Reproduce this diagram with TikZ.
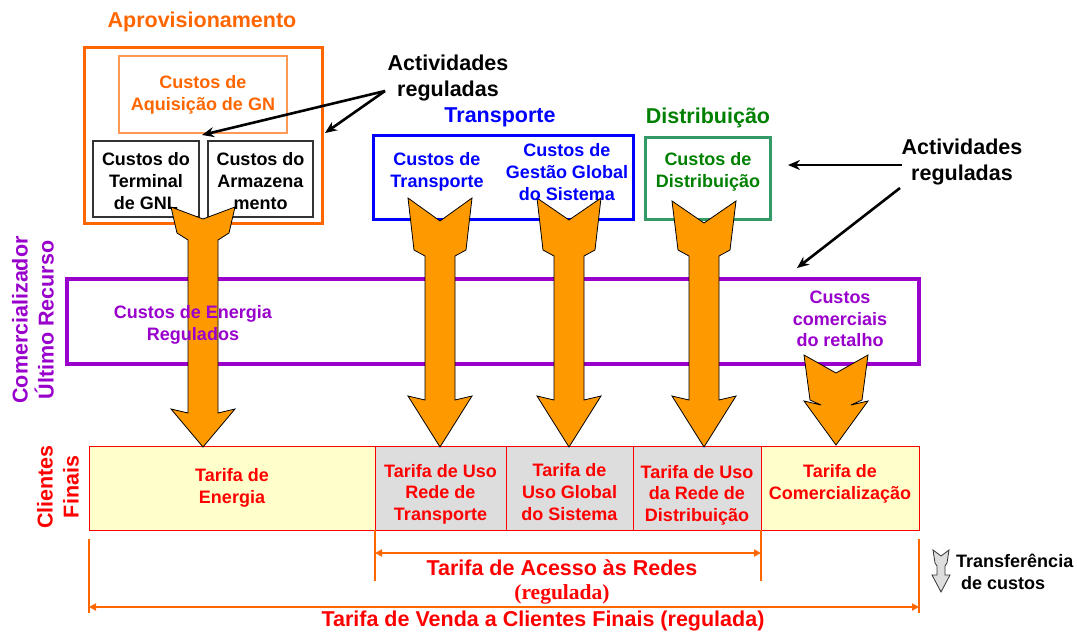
\documentclass[tikz,border=0pt]{standalone}
\usepackage{fontspec}
\setmainfont{Liberation Sans}
\newfontfamily\serifbold{Liberation Serif}
\usetikzlibrary{arrows.meta}

\definecolor{orng}{HTML}{FF6600}
\definecolor{orngl}{HTML}{FF9955}
\definecolor{arrfill}{HTML}{FF9900}
\definecolor{blu}{HTML}{0000FF}
\definecolor{grn}{HTML}{008000}
\definecolor{grnbox}{HTML}{339966}
\definecolor{purp}{HTML}{9900CC}
\definecolor{rd}{HTML}{FF0000}
\definecolor{ylw}{HTML}{FFFFCC}
\definecolor{gry}{HTML}{DDDDDD}
\definecolor{dkgry}{HTML}{333333}

% cx, top, notch, tail bottom, shaft top, shaft bottom, tip
\newcommand{\costarrow}[7]{%
  \filldraw[fill=arrfill,draw=black,line width=0.8pt,line join=miter]
    ({#1-32},#2) -- (#1,#3) -- ({#1+32},#2) -- ({#1+26},#4) -- ({#1+15},#5)
    -- ({#1+15},#6) -- ({#1+32},{#6-4}) -- (#1,#7) -- ({#1-32},{#6-4})
    -- ({#1-15},#6) -- ({#1-15},#5) -- ({#1-26},#4) -- cycle;}

\begin{document}
\begin{tikzpicture}[x=1pt,y=-1pt,
  txt/.style={font=\fontsize{18}{21.6}\selectfont\bfseries, align=center, inner sep=0pt},
  big/.style={font=\fontsize{21.5}{26}\selectfont\bfseries, align=center, inner sep=0pt},
  box/.style={draw, inner sep=0pt, outer sep=0pt},
  cell/.style={draw=rd, line width=1pt, inner sep=0pt, outer sep=0pt, minimum height=84pt},
  blackarrow/.style={draw=black, line width=2.6pt, -{Stealth[length=12pt,width=10pt]}},
  bracket/.style={draw=orng, line width=2pt},
  dimarrow/.style={draw=orng, line width=2pt, {Triangle[length=7pt,width=7pt]}-{Triangle[length=7pt,width=7pt]}},
]
\useasboundingbox (0,0) rectangle (1077,632);

% ---- table of tariffs
\node[cell, fill=ylw, minimum width=286pt] (c1) at (232,488) {};
\node[cell, fill=gry, minimum width=131pt] (c2) at (440.5,488) {};
\node[cell, fill=gry, minimum width=127pt] (c3) at (569.5,488) {};
\node[cell, fill=gry, minimum width=128pt] (c4) at (697,488) {};
\node[cell, fill=ylw, minimum width=158pt] (c5) at (840,488) {};
\node[txt, text=rd] (t1) at (232,488) {Tarifa de\\Energia};
\node[txt, text=rd] (t2) at (440.5,494) {Tarifa de Uso\\Rede de\\Transporte};
\node[txt, text=rd] (t3) at (569.5,492) {Tarifa de\\Uso Global\\do Sistema};
\node[txt, text=rd] (t4) at (697,495) {Tarifa de Uso\\da Rede de\\Distribuição};
\node[txt, text=rd] (t5) at (840,484) {Tarifa de\\Comercialização};

% ---- boxes
\node[box, draw=orng, line width=3pt, minimum width=238pt, minimum height=176pt] (aprov) at (203,135) {};
\node[box, draw=orngl, line width=1.2pt, minimum width=168pt, minimum height=77pt] (aquis) at (203,94.5) {};
\node[box, draw=dkgry, line width=1.2pt, minimum width=106pt, minimum height=76pt] (gnl) at (146,179) {};
\node[box, draw=dkgry, line width=1.2pt, minimum width=105pt, minimum height=76pt] (armaz) at (260.5,179) {};
\node[box, draw=blu, line width=3pt, minimum width=260pt, minimum height=84pt] (transp) at (503,177) {};
\node[box, draw=grnbox, line width=3pt, minimum width=125pt, minimum height=82pt] (distr) at (707.5,178) {};
\node[box, draw=purp, line width=3.5pt, minimum width=852pt, minimum height=85pt] (cur) at (493,321.5) {};

\node[big, text=orng] (aprovt) at (202,22) {Aprovisionamento};
\node[txt, text=orng] (aquist) at (203,95) {Custos de\\Aquisição de GN};
\node[txt] (gnlt) at (146,181) {Custos do\\Terminal\\de GNL};
\node[txt] (armazt) at (260.5,181) {Custos do\\Armazena\\mento};

% ---- big cost-transfer arrows
\costarrow{203}{207}{219}{233}{240}{413}{447}
\costarrow{440}{198}{221}{250}{256}{400}{447}
\costarrow{569}{198}{220}{250}{256}{400}{447}
\costarrow{704}{201}{223}{250}{256}{400}{447}
\costarrow{836}{355}{373}{400}{405}{405}{445}

% ---- titles and texts
\node[big, text=blu] (transpt) at (500,117) {Transporte};
\node[txt, text=blu] (ctransp) at (437,172) {Custos de\\Transporte};
\node[txt, text=blu] (cgest) at (567,172) {Custos de\\Gestão Global\\do Sistema};
\node[big, text=grn] (distrt) at (708,118) {Distribuição};
\node[txt, text=grn] (cdistr) at (708,172) {Custos de\\Distribuição};
\node[txt, text=purp] (cener) at (193,325) {Custos de Energia\\Regulados};
\node[txt, text=purp] (ccom) at (840,319) {Custos\\comerciais\\do retalho};
\node[big, text=purp, rotate=90] (curt) at (33,320) {Comercializador\\Último Recurso};
\node[big, text=rd, rotate=90] (clit) at (58,487) {Clientes\\Finais};

% ---- regulated activities
\node[big] (act1) at (448,78) {Actividades\\reguladas};
\node[big] (act2) at (962,162) {Actividades\\reguladas};
\coordinate (s1) at (385,91);
\coordinate (e1) at (202,135);
\coordinate (e2) at (325,133);
\draw[blackarrow] (s1) -- (e1);
\draw[blackarrow] (s1) -- (e2);
\coordinate (s2) at (902,165);
\coordinate (e3) at (788,165);
\coordinate (s3) at (900,188);
\coordinate (e4) at (797,268);
\draw[blackarrow] (s2) -- (e3);
\draw[blackarrow] (s3) -- (e4);

% ---- brackets
\coordinate (b1t) at (375,530); \coordinate (b1b) at (375,581);
\coordinate (b2t) at (761,530); \coordinate (b2b) at (761,581);
\coordinate (b3t) at (89,539);  \coordinate (b3b) at (89,613);
\coordinate (b4t) at (919,539); \coordinate (b4b) at (919,613);
\draw[bracket] (b1t) -- (b1b);
\draw[bracket] (b2t) -- (b2b);
\draw[bracket] (b3t) -- (b3b);
\draw[bracket] (b4t) -- (b4b);
\coordinate (a1l) at (375,553); \coordinate (a1r) at (761,553);
\coordinate (a2l) at (89,607);  \coordinate (a2r) at (919,607);
\draw[dimarrow] (a1l) -- (a1r);
\draw[dimarrow] (a2l) -- (a2r);
\node[big, text=rd] (acesso) at (562,568) {Tarifa de Acesso às Redes};
\node[inner sep=0pt, text=rd, font=\serifbold\fontsize{21.5}{26}\selectfont\bfseries] (reg) at (562,594) {(regulada)};
\node[big, text=rd] (venda) at (543,621) {Tarifa de Venda a Clientes Finais (regulada)};

% ---- legend
\filldraw[fill=gry, draw=dkgry, line width=0.8pt]
  (933,550) -- (941,556) -- (949,550) -- (947,563) -- (945,566) -- (945,575)
  -- (950,575) -- (941,592) -- (932,575) -- (937,575) -- (937,566) -- (935,563) -- cycle;
\node[txt, align=left, anchor=west] (legt) at (956,572) {Transferência\\\hspace*{5pt}de custos};
\end{tikzpicture}
\end{document}
